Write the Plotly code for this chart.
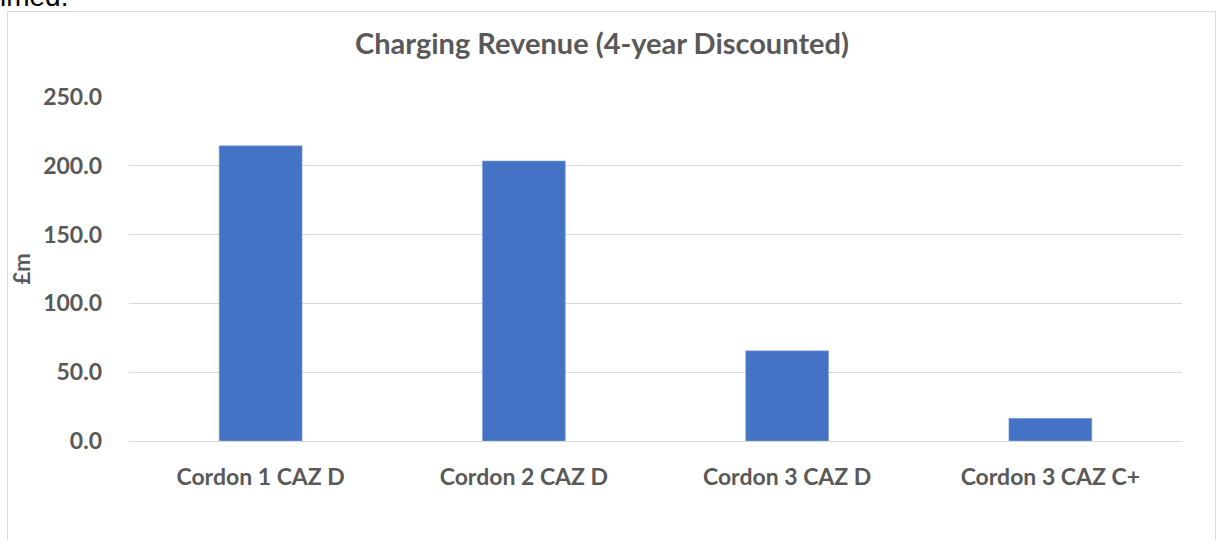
import plotly.graph_objects as go

categories = ["Cordon 1 CAZ D", "Cordon 2 CAZ D", "Cordon 3 CAZ D", "Cordon 3 CAZ C+"]
revenue = [214.5, 203.5, 65.5, 16.5]
tick_vals = [0, 50, 100, 150, 200, 250]
tick_text = ["0.0", "50.0", "100.0", "150.0", "200.0", "250.0"]

W, H = 1219, 540
L, R, T, B = 129, 37, 97, 99
pw = W - L - R
ph = H - T - B

def px_x(p):
    return (p - L) / pw

def px_y(p):
    return (H - B - p) / ph

grey = "#595959"
font_family = "Lato, 'Open Sans', sans-serif"

fig = go.Figure(
    go.Bar(
        x=categories,
        y=revenue,
        marker=dict(color="#4472C4", line=dict(color="#8FAADC", width=0.6)),
        width=0.315,
    )
)

fig.update_layout(
    width=W,
    height=H,
    margin=dict(l=L, r=R, t=T, b=B, autoexpand=False),
    paper_bgcolor="white",
    plot_bgcolor="white",
    showlegend=False,
    font=dict(family=font_family, color=grey),
    title=dict(
        text="<b>Charging Revenue (4-year Discounted)</b>",
        x=602 / W,
        xref="container",
        xanchor="center",
        y=1 - 44 / H,
        yanchor="middle",
        font=dict(size=29, color=grey, family=font_family),
    ),
    xaxis=dict(
        showgrid=False,
        showline=False,
        ticks="",
        tickfont=dict(size=23, color=grey, family=font_family),
        ticklabelstandoff=20,
    ),
    yaxis=dict(
        range=[0, 250],
        tickvals=tick_vals,
        ticktext=["<b>%s</b>" % t for t in tick_text],
        showgrid=True,
        gridcolor="#D9D9D9",
        gridwidth=1,
        zeroline=True,
        zerolinecolor="#D9D9D9",
        zerolinewidth=1,
        showline=False,
        ticks="",
        ticklabelstandoff=26,
        tickfont=dict(size=23, color=grey, family=font_family),
        title=dict(text="<b>£m</b>", font=dict(size=22, color=grey, family=font_family), standoff=6),
    ),
    shapes=[
        dict(
            type="rect",
            xref="paper",
            yref="paper",
            x0=px_x(7.5),
            x1=px_x(1215.5),
            y0=px_y(560),
            y1=px_y(11.5),
            line=dict(color="#D9D9D9", width=1),
            fillcolor="rgba(0,0,0,0)",
            layer="below",
        )
    ],
    annotations=[
        dict(
            text="imed.",
            xref="paper",
            yref="paper",
            x=px_x(-2),
            y=px_y(14),
            xanchor="left",
            yanchor="bottom",
            showarrow=False,
            font=dict(size=28, color="black", family="Liberation Sans, Arial, sans-serif"),
        )
    ],
)

fig.update_xaxes(tickvals=categories, ticktext=["<b>%s</b>" % c for c in categories])

fig.write_html(
    "out.html",
    config={"displayModeBar": False},
    post_script="document.body.style.margin='0px';document.body.style.overflow='hidden';",
)
